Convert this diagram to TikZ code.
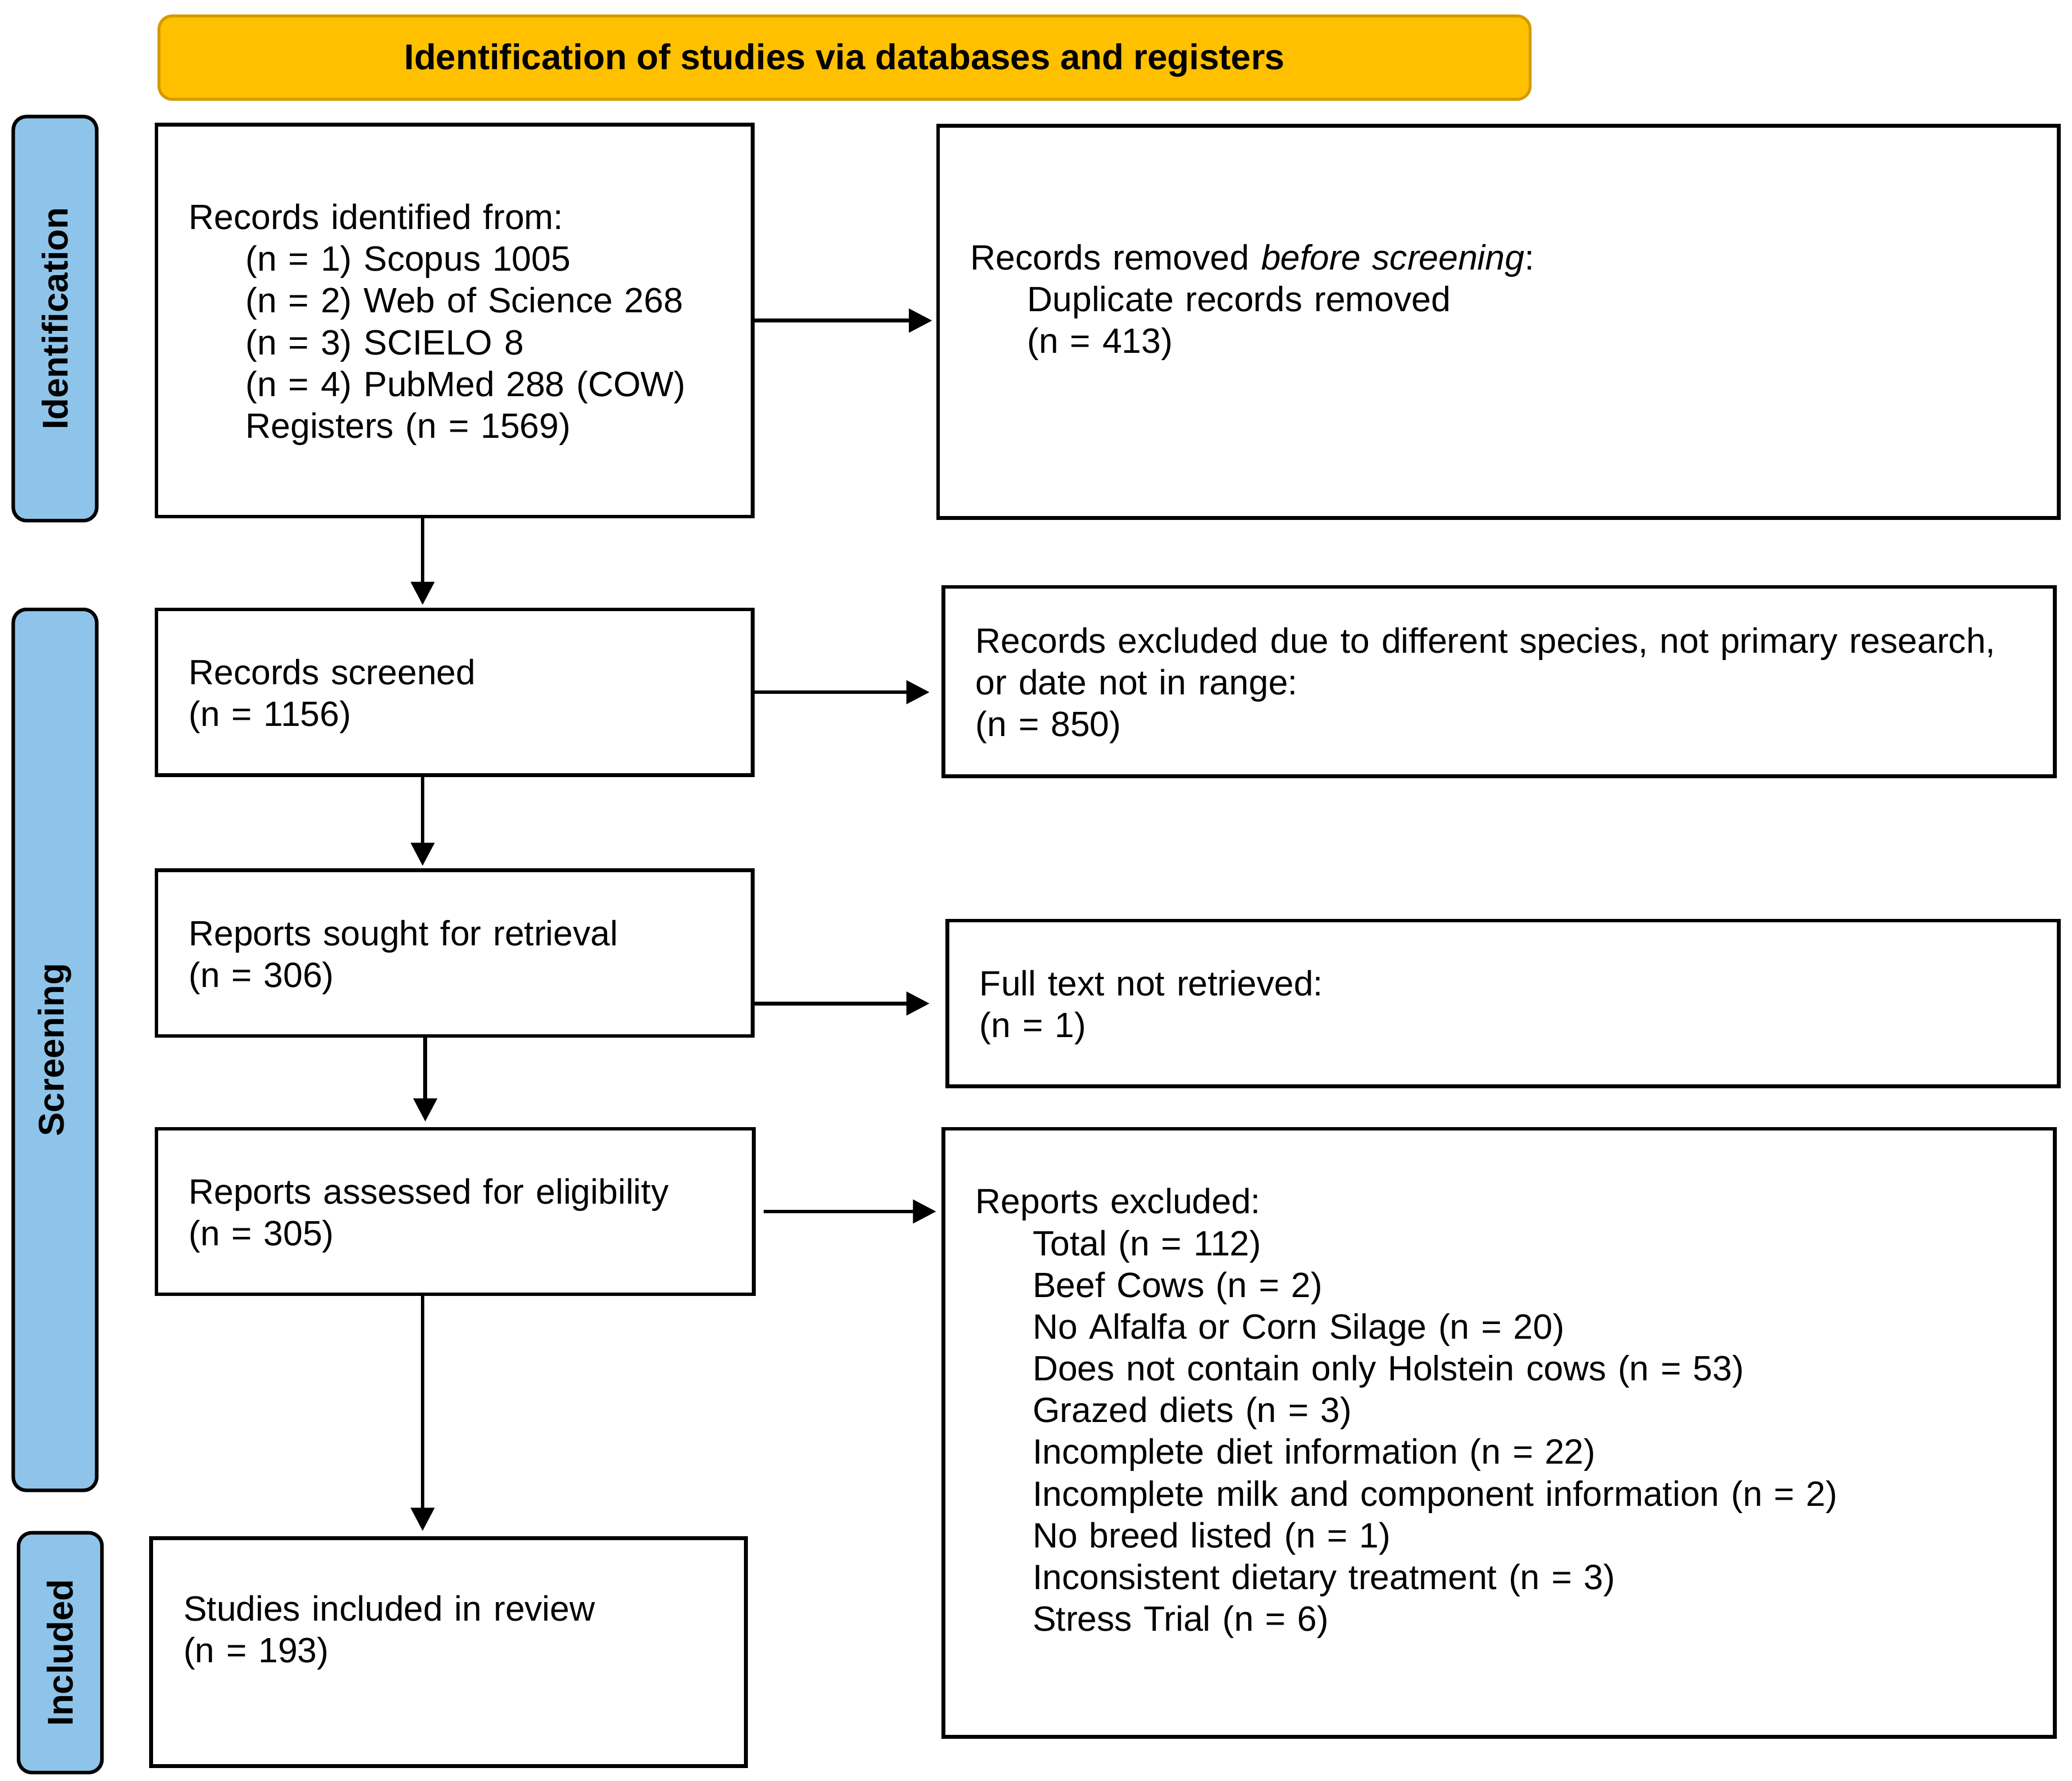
\documentclass[tikz,border=0pt]{standalone}
\usepackage{fontspec}
\setmainfont{Liberation Sans}
\usetikzlibrary{arrows.meta}
\definecolor{hdrfill}{HTML}{FFC000}
\definecolor{hdrdraw}{HTML}{D49A00}
\definecolor{sidefill}{HTML}{8FC4EA}
\newcommand{\ind}{\hspace*{43pt}}
\newcommand{\tp}{\rule{0pt}{25.3pt}}
\begin{document}
\begin{tikzpicture}[x=1pt,y=-1pt,
  txt/.style={font=\fontsize{26.5}{31.5}\selectfont},
  box/.style={txt,draw=black,line width=2.8pt,inner xsep=24.5pt,inner ysep=0pt,align=left,anchor=center},
  side/.style={draw=black,fill=sidefill,line width=2.7pt,rounded corners=10pt,rotate=90,inner sep=0pt,
    font=\fontsize{27}{31.5}\selectfont\bfseries},
  hdr/.style={draw=hdrdraw,fill=hdrfill,line width=2.2pt,rounded corners=10pt,inner sep=0pt,
    font=\fontsize{27}{31.5}\selectfont\bfseries},
  arr/.style={line width=2.8pt,-{Triangle[length=17.5pt,width=17.5pt]}}]
\useasboundingbox (0,0) rectangle (1564,1344);

% header
\node[hdr,minimum width=1035pt,minimum height=63pt] (H) at (637.5,43.5) {\rule{0pt}{24pt}Identification of studies via databases and registers};

% side bars
\node[side,minimum width=305pt,minimum height=63pt] (S1) at (41.5,240.5) {Identification};
\node[side,minimum width=665pt,minimum height=63pt] (S2) at (41.5,792.5) {Screening};
\node[side,minimum width=181pt,minimum height=63pt] (S3) at (45.5,1247.5) {Included};

% left column
\node[box,minimum width=450pt,text width=401pt,minimum height=296pt] (B1) at (343,242)
  {\tp Records identified from:\\
   \ind(n = 1) Scopus 1005\\
   \ind(n = 2) Web of Science 268\\
   \ind(n = 3) SCIELO 8\\
   \ind(n = 4) PubMed 288 (COW)\\
   \ind Registers (n = 1569)};
\node[box,minimum width=450pt,text width=401pt,minimum height=125pt] (B2) at (343,522.5)
  {\tp Records screened\\(n = 1156)};
\node[box,minimum width=450pt,text width=401pt,minimum height=125pt] (B3) at (343,719.5)
  {\tp Reports sought for retrieval\\(n = 306)};
\node[box,minimum width=451pt,text width=402pt,minimum height=125pt] (B4) at (343.5,914.5)
  {\tp Reports assessed for eligibility\\(n = 305)};
\node[box,minimum width=449pt,text width=400pt,minimum height=172pt] (B5) at (338.5,1247)
  {\tp Studies included in review\\(n = 193)\\\strut};

% right column
\node[box,minimum width=846pt,text width=797pt,minimum height=296pt] (R1) at (1131,243)
  {\tp Records removed \textit{before screening}:\\
   \ind Duplicate records removed\\
   \ind(n = 413)\\\strut};
\node[box,minimum width=839pt,text width=790pt,minimum height=143pt] (R2) at (1131.5,514.5)
  {\tp Records excluded due to different species, not primary research,\\
   or date not in range:\\
   (n = 850)};
\node[box,minimum width=839pt,text width=790pt,minimum height=125pt] (R3) at (1134.5,757.5)
  {\tp Full text not retrieved:\\(n = 1)};
\node[box,minimum width=839pt,text width=790pt,minimum height=459pt] (R4) at (1131.5,1081.5)
  {\tp Reports excluded:\\
   \ind Total (n = 112)\\
   \ind Beef Cows (n = 2)\\
   \ind No Alfalfa or Corn Silage (n = 20)\\
   \ind Does not contain only Holstein cows (n = 53)\\
   \ind Grazed diets (n = 3)\\
   \ind Incomplete diet information (n = 22)\\
   \ind Incomplete milk and component information (n = 2)\\
   \ind No breed listed (n = 1)\\
   \ind Inconsistent dietary treatment (n = 3)\\
   \ind Stress Trial (n = 6)\\\strut};

% horizontal arrows
\draw[arr,shorten >=3pt] (B1.east) -- (B1.east -| R1.west);
\draw[arr,shorten >=9pt] (B2.east) -- (B2.east -| R2.west);
\draw[arr,shorten >=12pt] (B3.east |- R3.west) -- (R3.west);
\draw[arr,shorten <=6pt,shorten >=4pt] (B4.east) -- (B4.east -| R4.west);

% vertical arrows
\draw[arr,shorten >=2pt] ([xshift=-24pt]B1.south) -- ([xshift=-24pt]B1.south |- B2.north);
\draw[arr,shorten >=2pt] ([xshift=-24pt]B2.south) -- ([xshift=-24pt]B2.south |- B3.north);
\draw[arr,shorten >=4pt] ([xshift=-22pt]B3.south) -- ([xshift=-22pt]B3.south |- B4.north);
\draw[arr,shorten >=4pt] ([xshift=-24.5pt]B4.south) -- ([xshift=-24.5pt]B4.south |- B5.north);
\end{tikzpicture}
\end{document}
